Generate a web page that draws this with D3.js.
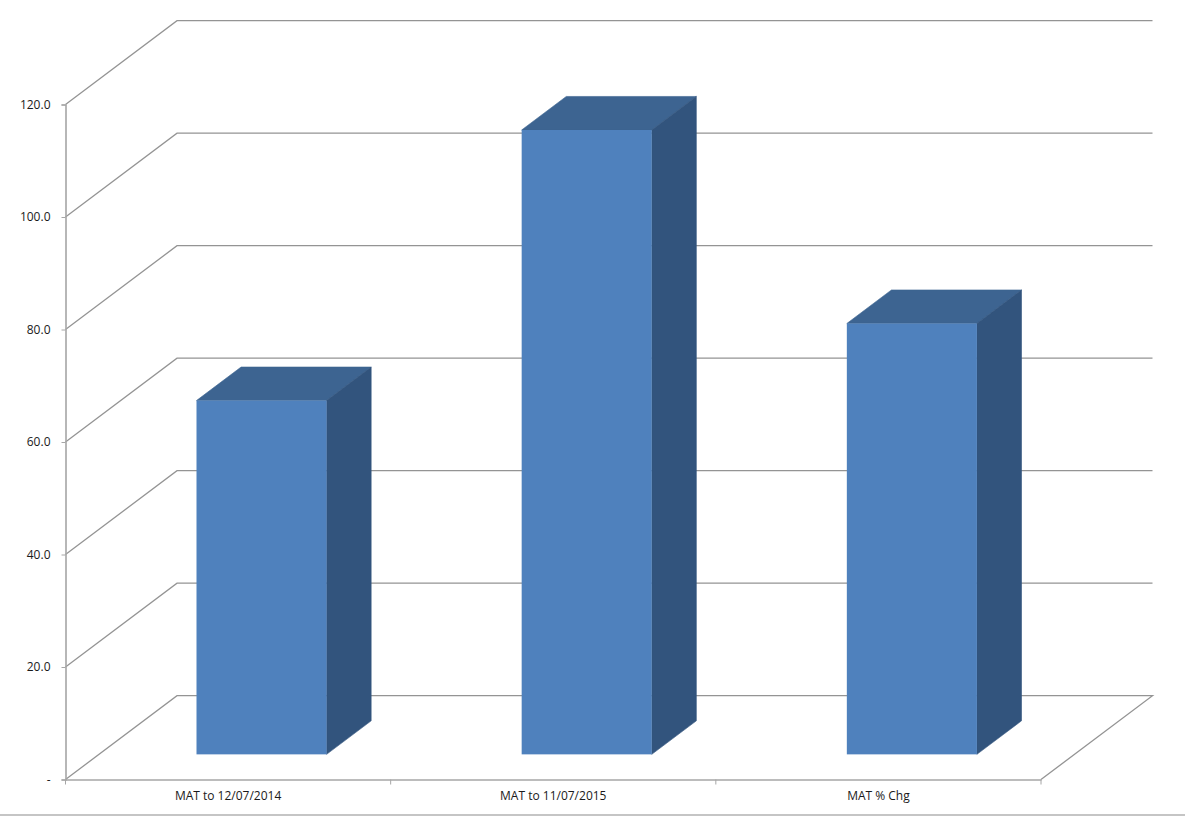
<!DOCTYPE html>
<html>
<head>
<meta charset="utf-8">
<script src="https://d3js.org/d3.v7.min.js"></script>
<style>
html, body { margin: 0; padding: 0; background: #fff; overflow: hidden; }
svg { display: block; }
.tick text { font-family: "Open Sans", sans-serif; font-size: 12px; fill: #1a1a1a; }
</style>
</head>
<body>
<div id="container"></div>
<script>
const categories = ["MAT to 12/07/2014", "MAT to 11/07/2015", "MAT % Chg"];
const values = [62.9, 111.0, 76.6];
const yTicks = [0, 20, 40, 60, 80, 100, 120];

const width = 1185;
const height = 816;
const left = 65.5;
const right = 1041;
const bottom = 779.5;
const top_ = 104.5;
const depthX = 111.5;   // offset of the back wall
const depthY = -83.8;
const gridcolor = "#949494";
const axiscolor = "#a6a6a6";
const front = "#4f81bd";
const side = "#32547d";
const roof = "#3d6491";

const x = d3.scaleBand().domain(categories).range([left, right]).paddingInner(0.6).paddingOuter(0.3);
const y = d3.scaleLinear().domain([0, 120]).range([bottom, top_]);

const svg = d3.select("#container").append("svg").attr("width", width).attr("height", height);

// back wall lines and the diagonals going to the y axis
const line = d3.line();
yTicks.forEach(t => {
  const pts = [[left, y(t)], [left + depthX, y(t) + depthY], [right + depthX, y(t) + depthY]];
  if (t === 0) pts.push([right, y(t)]);
  svg.append("path")
    .attr("d", line(pts))
    .attr("fill", "none")
    .attr("stroke", gridcolor)
    .attr("stroke-width", 1.3);
});

// axes
const yAxis = svg.append("g")
  .attr("transform", `translate(${left},0)`)
  .call(d3.axisLeft(y).tickValues(yTicks).tickSize(4).tickPadding(11).tickFormat(d => d === 0 ? "-" : d3.format(".1f")(d)));

const xBand = d3.scaleBand().domain(categories).range([left, right]);
const xAxis = svg.append("g")
  .attr("transform", `translate(0,${bottom})`)
  .call(d3.axisBottom(xBand).tickSize(0).tickPadding(12));

xAxis.selectAll(".tick line").remove();
xBand.domain().concat(["end"]).forEach((c, i) => {
  const tx = left + i * xBand.bandwidth();
  xAxis.append("line").attr("x1", tx).attr("x2", tx).attr("y1", 0).attr("y2", 5).attr("stroke", axiscolor).attr("stroke-width", 1);
});

[yAxis, xAxis].forEach(a => a.select(".domain").attr("stroke", axiscolor).attr("stroke-width", 1.6));
yAxis.selectAll(".tick line").attr("stroke", axiscolor);

// bars, sitting 30% into the depth and 40% deep
const offX = depthX * 0.3;
const offY = depthY * 0.3;
const barX = depthX * 0.4;
const barY = depthY * 0.4;

const bars = svg.selectAll(".bar").data(categories).enter().append("g").attr("class", "bar");

bars.append("path")
  .attr("fill", roof)
  .attr("stroke", roof)
  .attr("stroke-width", 0.6)
  .attr("d", (c, i) => {
    const x0 = x(c) + offX, x1 = x0 + x.bandwidth(), t = y(values[i]) + offY;
    return line([[x0, t], [x0 + barX, t + barY], [x1 + barX, t + barY], [x1, t]]) + "Z";
  });

bars.append("path")
  .attr("fill", side)
  .attr("stroke", side)
  .attr("stroke-width", 0.6)
  .attr("d", (c, i) => {
    const x1 = x(c) + offX + x.bandwidth(), t = y(values[i]) + offY, b = y(0) + offY;
    return line([[x1, t], [x1 + barX, t + barY], [x1 + barX, b + barY], [x1, b]]) + "Z";
  });

bars.append("rect")
  .attr("fill", front)
  .attr("x", c => x(c) + offX)
  .attr("y", (c, i) => y(values[i]) + offY)
  .attr("width", x.bandwidth())
  .attr("height", (c, i) => y(0) - y(values[i]));

// line along the bottom of the screenshot
svg.append("line")
  .attr("x1", 0).attr("x2", width)
  .attr("y1", 815).attr("y2", 815)
  .attr("stroke", "#8c8c8c").attr("stroke-width", 1.2);
</script>
</body>
</html>
